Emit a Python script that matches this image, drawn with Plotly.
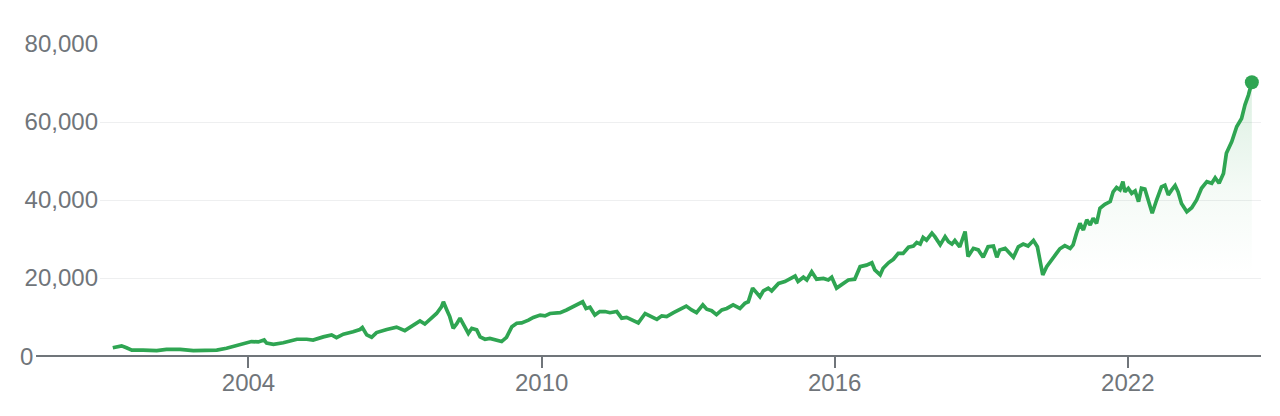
import pandas as pd
import plotly.graph_objects as go

# decimal years
years = [
    2001.22, 2001.40, 2001.50, 2001.61, 2001.84, 2002.12, 2002.32, 2002.60, 2002.87, 2003.14,
    2003.35, 2003.55, 2003.76, 2003.96, 2004.06, 2004.20, 2004.32, 2004.37, 2004.51, 2004.71,
    2004.99, 2005.19, 2005.32, 2005.53, 2005.70, 2005.80, 2005.94, 2006.14, 2006.28, 2006.33,
    2006.42, 2006.52, 2006.62, 2006.83, 2007.03, 2007.20, 2007.37, 2007.51, 2007.61, 2007.71,
    2007.85, 2007.95, 2007.99, 2008.06, 2008.12, 2008.19, 2008.26, 2008.33, 2008.40, 2008.50,
    2008.57, 2008.67, 2008.74, 2008.84, 2008.94, 2009.05, 2009.15, 2009.18, 2009.28, 2009.39,
    2009.49, 2009.59, 2009.73, 2009.83, 2009.97, 2010.07, 2010.17, 2010.31,
    2010.38, 2010.51, 2010.65, 2010.75, 2010.84, 2010.91, 2010.99, 2011.09, 2011.19, 2011.30,
    2011.40, 2011.54, 2011.64, 2011.74, 2011.84, 2011.98, 2012.12, 2012.22, 2012.36, 2012.46,
    2012.56, 2012.70, 2012.83, 2012.96, 2013.07, 2013.17, 2013.30, 2013.38, 2013.48, 2013.58,
    2013.69, 2013.79, 2013.92, 2014.06, 2014.16, 2014.23, 2014.32, 2014.40, 2014.47,
    2014.54, 2014.64, 2014.71, 2014.85, 2014.98, 2015.08, 2015.19, 2015.25, 2015.36, 2015.43,
    2015.53, 2015.63, 2015.77, 2015.87, 2015.94, 2016.04, 2016.14, 2016.28, 2016.41,
    2016.52, 2016.65, 2016.76, 2016.82, 2016.93, 2016.99, 2017.10, 2017.20, 2017.30, 2017.40,
    2017.51, 2017.61, 2017.68, 2017.75, 2017.81, 2017.88, 2017.99, 2018.05, 2018.16, 2018.26,
    2018.33, 2018.40, 2018.46, 2018.56, 2018.67, 2018.73, 2018.84, 2018.94, 2019.04, 2019.14,
    2019.25, 2019.32, 2019.38, 2019.49, 2019.59, 2019.66, 2019.76, 2019.86, 2019.96, 2020.07,
    2020.15, 2020.20, 2020.26, 2020.34, 2020.44, 2020.54,
    2020.61, 2020.71, 2020.82, 2020.88, 2020.95, 2021.02, 2021.09, 2021.16, 2021.23, 2021.29,
    2021.36, 2021.43, 2021.53, 2021.64, 2021.70, 2021.77, 2021.84, 2021.90, 2021.94, 2022.01,
    2022.08, 2022.15, 2022.22, 2022.28, 2022.35, 2022.42, 2022.50, 2022.59, 2022.69, 2022.76,
    2022.83, 2022.90, 2022.97, 2023.03, 2023.10, 2023.21, 2023.31, 2023.41, 2023.51, 2023.62,
    2023.72, 2023.79, 2023.87, 2023.96, 2024.02, 2024.13, 2024.23, 2024.33, 2024.40, 2024.47,
    2024.54,
]

prices = [
    2100, 2600, 2100, 1500, 1500, 1400, 1700, 1700, 1400, 1500,
    1500, 2000, 2600, 3300, 3700, 3600, 4100, 3300, 3000, 3400,
    4300, 4300, 4100, 4900, 5400, 4700, 5600, 6200, 6800, 7300,
    5400, 4800, 6000, 6800, 7400, 6500, 7800, 9000, 8200, 9400,
    10900, 12600, 13900, 11800, 10100, 7100, 8200, 9700, 7900, 5800,
    7100, 6700, 4900, 4300, 4500, 4100, 3900, 3700, 4800, 7500,
    8400, 8500, 9200, 9900, 10500, 10300, 10900, 11100,
    11100, 11800, 12600, 13300, 13900, 12200, 12500, 10500, 11400, 11400,
    11100, 11400, 9700, 9900, 9400, 8500, 10900, 10300, 9400, 10300,
    10100, 11100, 12000, 12800, 11800, 11100, 13100, 12000, 11600, 10600,
    11800, 12200, 13100, 12200, 13500, 13900, 17400, 16100, 15200,
    16700, 17400, 16700, 18600, 19100, 19700, 20500, 19100, 20200, 19500,
    21600, 19700, 19900, 19500, 20200, 17400, 18200, 19500, 19700,
    22900, 23300, 23900, 22100, 20800, 22500, 23900, 24800, 26300, 26300,
    27900, 28200, 29100, 28700, 30400, 29700, 31500, 30600, 28500, 30600,
    29300, 28700, 29600, 28000, 31900, 25500, 27600, 27200, 25300, 28000,
    28200, 25300, 27200, 27600, 26300, 25300, 28000, 28700, 28200, 29600,
    28000, 24600, 20800, 22900, 24800, 26300,
    27500, 28300, 27600, 28500, 31500, 34000, 32300, 34900, 33600, 35300,
    34000, 37900, 38900, 39600, 42100, 43200, 42600, 44700, 42100, 43000,
    41700, 42300, 39600, 43000, 42800, 40000, 36600, 40000, 43400, 43800,
    41300, 42600, 43700, 42100, 39100, 37000, 38000, 40000, 43000, 44700,
    44300, 45700, 44300, 46800, 52000, 55000, 58800, 60900, 64400, 66900,
    70200,
]

y_tick_values = [20000, 40000, 60000, 80000]
y_tick_labels = ["20,000", "40,000", "60,000", "80,000"]
x_tick_start = "2004-01-01"
shade_from_year = 2020.26


def to_date(y):
    yr = int(y)
    start = pd.Timestamp(yr, 1, 1)
    span = (pd.Timestamp(yr + 1, 1, 1) - start).days
    return start + pd.Timedelta(days=(y - yr) * span)


dates = [to_date(v) for v in years]

GREEN = "#2fa552"
GRAY = "#70757a"
FONT = "Liberation Sans, Arial, sans-serif"

fill_start = next(i for i, y in enumerate(years) if y >= shade_from_year)
fig = go.Figure()
fig.add_trace(go.Scatter(
    x=dates[fill_start:], y=prices[fill_start:], mode="lines",
    line=dict(width=0, color=GREEN), fill="tozeroy",
    fillgradient=dict(type="vertical", colorscale=[
        [0.0, "rgba(47,165,82,0)"], [0.3, "rgba(47,165,82,0)"],
        [0.6, "rgba(47,165,82,0.05)"], [1.0, "rgba(47,165,82,0.17)"]]),
    hoverinfo="skip", showlegend=False,
))
fig.add_trace(go.Scatter(
    x=dates, y=prices, mode="lines",
    line=dict(width=3.7, color=GREEN, shape="linear"),
    showlegend=False,
))
fig.add_trace(go.Scatter(
    x=[dates[-1]], y=[prices[-1]], mode="markers",
    marker=dict(size=14, color=GREEN), showlegend=False,
))

fig.update_layout(
    width=1272, height=408,
    margin=dict(l=92, r=19, t=35, b=60),
    paper_bgcolor="white", plot_bgcolor="white",
    font=dict(family=FONT, size=24, color=GRAY),
    xaxis=dict(
        type="date",
        range=[to_date(2000.958), to_date(2024.727)],
        tick0=x_tick_start, dtick="M72", tickformat="%Y",
        ticks="outside", ticklen=11, tickwidth=1.5, tickcolor=GRAY,
        showgrid=False, showline=False, zeroline=False,
        ticklabelstandoff=-6,
        tickfont=dict(size=24, color=GRAY),
    ),
    yaxis=dict(
        range=[0, 80256],
        tickvals=y_tick_values, ticktext=y_tick_labels,
        showgrid=True, gridcolor="#eeeff0", gridwidth=1,
        zeroline=False, showline=False, ticks="",
        ticklabelstandoff=1,
        tickfont=dict(size=24, color=GRAY),
    ),
    shapes=[dict(type="line", xref="paper", yref="paper",
                 x0=-0.0551, x1=1, y0=0, y1=0,
                 line=dict(color=GRAY, width=1.8), layer="above")],
    annotations=[dict(text="0", xref="paper", yref="y", x=-0.056, y=0,
                      xanchor="right", yanchor="middle", showarrow=False,
                      font=dict(size=24, color=GRAY, family=FONT))],
)

fig.write_html("out.html")
